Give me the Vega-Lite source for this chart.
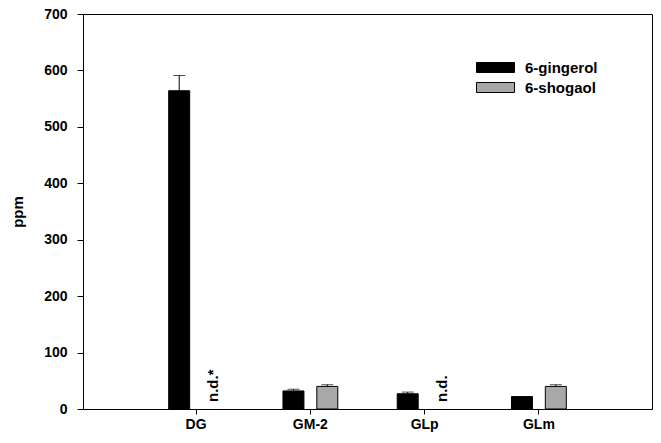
{
  "$schema": "https://vega.github.io/schema/vega-lite/v6.json",
  "autosize": "none",
  "width": 569,
  "height": 395,
  "padding": {"left": 83, "top": 14, "right": 9, "bottom": 34},
  "background": "white",
  "config": {
    "view": {"stroke": "black", "strokeWidth": 1},
    "font": "Liberation Sans",
    "axis": {"grid": false, "domainColor": "black", "tickColor": "black", "labelColor": "black", "titleColor": "black", "labelFont": "Liberation Sans", "labelFontWeight": "bold", "titleFont": "Liberation Sans", "titleFontWeight": "bold"}
  },
  "data": {
    "values": [
      {"sample": "DG", "compound": "6-gingerol", "ppm": 564, "upper": 591, "label": null},
      {"sample": "DG", "compound": "6-shogaol", "ppm": null, "upper": null, "label": "n.d.*"},
      {"sample": "GM-2", "compound": "6-gingerol", "ppm": 32, "upper": 35, "label": null},
      {"sample": "GM-2", "compound": "6-shogaol", "ppm": 40, "upper": 43, "label": null},
      {"sample": "GLp", "compound": "6-gingerol", "ppm": 27, "upper": 30, "label": null},
      {"sample": "GLp", "compound": "6-shogaol", "ppm": null, "upper": null, "label": "n.d."},
      {"sample": "GLm", "compound": "6-gingerol", "ppm": 22, "upper": null, "label": null},
      {"sample": "GLm", "compound": "6-shogaol", "ppm": 40, "upper": 43, "label": null}
    ]
  },
  "encoding": {
    "x": {
      "field": "sample", "type": "nominal", "sort": ["DG", "GM-2", "GLp", "GLm"],
      "scale": {"paddingInner": 0.52, "paddingOuter": 0.75},
      "axis": {"title": null, "labelAngle": 0, "labelFontSize": 14, "tickSize": 5, "labelPadding": 3, "domainWidth": 1}
    },
    "xOffset": {
      "field": "compound", "type": "nominal", "sort": ["6-gingerol", "6-shogaol"],
      "scale": {"paddingInner": 0.38, "paddingOuter": 0}
    }
  },
  "layer": [
    {
      "mark": {"type": "bar", "stroke": "black", "strokeWidth": 1},
      "encoding": {
        "y": {
          "field": "ppm", "type": "quantitative",
          "scale": {"domain": [0, 700], "nice": false},
          "axis": {"title": "ppm", "values": [0, 100, 200, 300, 400, 500, 600, 700], "labelFontSize": 14, "tickSize": 6, "labelPadding": 10, "titleFontSize": 15, "titlePadding": 18}
        },
        "fill": {
          "field": "compound", "type": "nominal",
          "scale": {"domain": ["6-gingerol", "6-shogaol"], "range": ["#000000", "#a8a8a8"]},
          "legend": {
            "title": null, "orient": "none", "legendX": 405, "legendY": 46,
            "symbolType": "M-3.8,-1H3.8V1H-3.8Z", "symbolSize": 100,
            "symbolStrokeColor": "black", "symbolStrokeWidth": 1,
            "labelFont": "Liberation Sans", "labelFontWeight": "bold", "labelFontSize": 15, "labelColor": "black",
            "rowPadding": 4, "labelOffset": 22
          }
        }
      }
    },
    {
      "mark": {"type": "rule", "color": "black", "strokeWidth": 1},
      "encoding": {
        "y": {"field": "upper", "type": "quantitative"},
        "y2": {"field": "ppm"}
      }
    },
    {
      "mark": {"type": "tick", "color": "black", "thickness": 1, "size": 12},
      "encoding": {
        "y": {"field": "upper", "type": "quantitative"}
      }
    },
    {
      "transform": [{"filter": "datum.label != null"}],
      "mark": {"type": "text", "angle": 270, "align": "left", "baseline": "middle", "dx": 7, "fontSize": 15, "fontWeight": "bold", "font": "Liberation Sans", "color": "black"},
      "encoding": {
        "y": {"datum": 0, "type": "quantitative"},
        "text": {"field": "label"}
      }
    }
  ]
}
